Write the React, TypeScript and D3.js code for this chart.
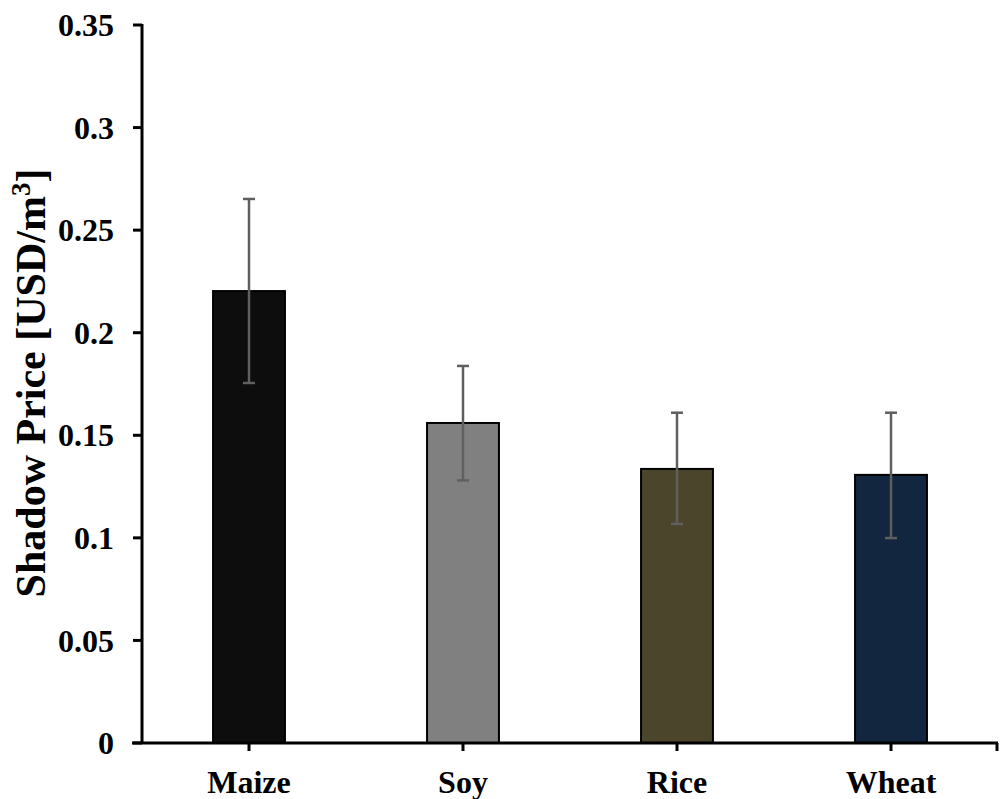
import React from "react";
import * as d3 from "d3";

const crops = ["Maize", "Soy", "Rice", "Wheat"];
const prices = [0.2203, 0.156, 0.1336, 0.1307];
const errLow = [0.1755, 0.128, 0.1068, 0.0999];
const errHigh = [0.2652, 0.1838, 0.161, 0.161];
const colors = ["#0d0d0d", "#808080", "#4a452b", "#12263f"];
const yTicks = [0, 0.05, 0.1, 0.15, 0.2, 0.25, 0.3, 0.35];

const W = 1000;
const H = 799;
const margin = { top: 25, right: 2, bottom: 56, left: 142 };
const font = "'Liberation Serif', 'Times New Roman', serif";

const App = () => {
  const x = d3
    .scaleBand()
    .domain(crops)
    .range([margin.left, W - margin.right])
    .paddingInner(0)
    .paddingOuter(0);
  const y = d3.scaleLinear().domain([0, 0.35]).range([H - margin.bottom, margin.top]);
  const barW = x.bandwidth() * 0.336;
  const y0 = y(0);

  return (
    <svg width={W} height={H} style={{ position: "absolute", left: 0, top: 0, background: "#fff" }}>
      {/* bars */}
      {crops.map((c, i) => {
        const cx = x(c)! + x.bandwidth() / 2;
        return (
          <rect
            key={c}
            x={cx - barW / 2}
            y={y(prices[i])}
            width={barW}
            height={y0 - y(prices[i])}
            fill={colors[i]}
            stroke="#000"
            strokeWidth={2}
          />
        );
      })}
      {/* error bars */}
      {crops.map((c, i) => {
        const cx = x(c)! + x.bandwidth() / 2;
        return (
          <g key={c} stroke="#5f5f5f" strokeWidth={2.5}>
            <line x1={cx} x2={cx} y1={y(errLow[i])} y2={y(errHigh[i])} />
            <line x1={cx - 6} x2={cx + 6} y1={y(errLow[i])} y2={y(errLow[i])} />
            <line x1={cx - 6} x2={cx + 6} y1={y(errHigh[i])} y2={y(errHigh[i])} />
          </g>
        );
      })}
      {/* y axis */}
      <line x1={margin.left} x2={margin.left} y1={margin.top - 1} y2={y0} stroke="#000" strokeWidth={3} />
      {yTicks.map((t) => (
        <g key={t}>
          <line x1={margin.left - 9} x2={margin.left} y1={y(t)} y2={y(t)} stroke="#000" strokeWidth={3} />
          <text
            x={margin.left - 28}
            y={y(t)}
            dy="0.35em"
            textAnchor="end"
            fontFamily={font}
            fontWeight="bold"
            fontSize={32}
          >
            {d3.format("")(t)}
          </text>
        </g>
      ))}
      {/* x axis */}
      <line x1={margin.left - 10} x2={W - margin.right} y1={y0} y2={y0} stroke="#000" strokeWidth={3} />
      {crops.map((c) => {
        const cx = x(c)! + x.bandwidth() / 2;
        return (
          <g key={c}>
            <line x1={cx} x2={cx} y1={y0} y2={y0 + 8} stroke="#000" strokeWidth={3} />
            <text x={cx} y={y0 + 50} textAnchor="middle" fontFamily={font} fontWeight="bold" fontSize={32}>
              {c}
            </text>
          </g>
        );
      })}
      <line x1={W - margin.right - 1} x2={W - margin.right - 1} y1={y0} y2={y0 + 8} stroke="#000" strokeWidth={3} />
      {/* y title */}
      <text
        transform={`translate(45,383) rotate(-90)`}
        textAnchor="middle"
        fontFamily={font}
        fontWeight="bold"
        fontSize={42}
      >
        Shadow Price [USD/m
        <tspan baselineShift="super" fontSize={27}>3</tspan>]
      </text>
    </svg>
  );
};

export default App;
